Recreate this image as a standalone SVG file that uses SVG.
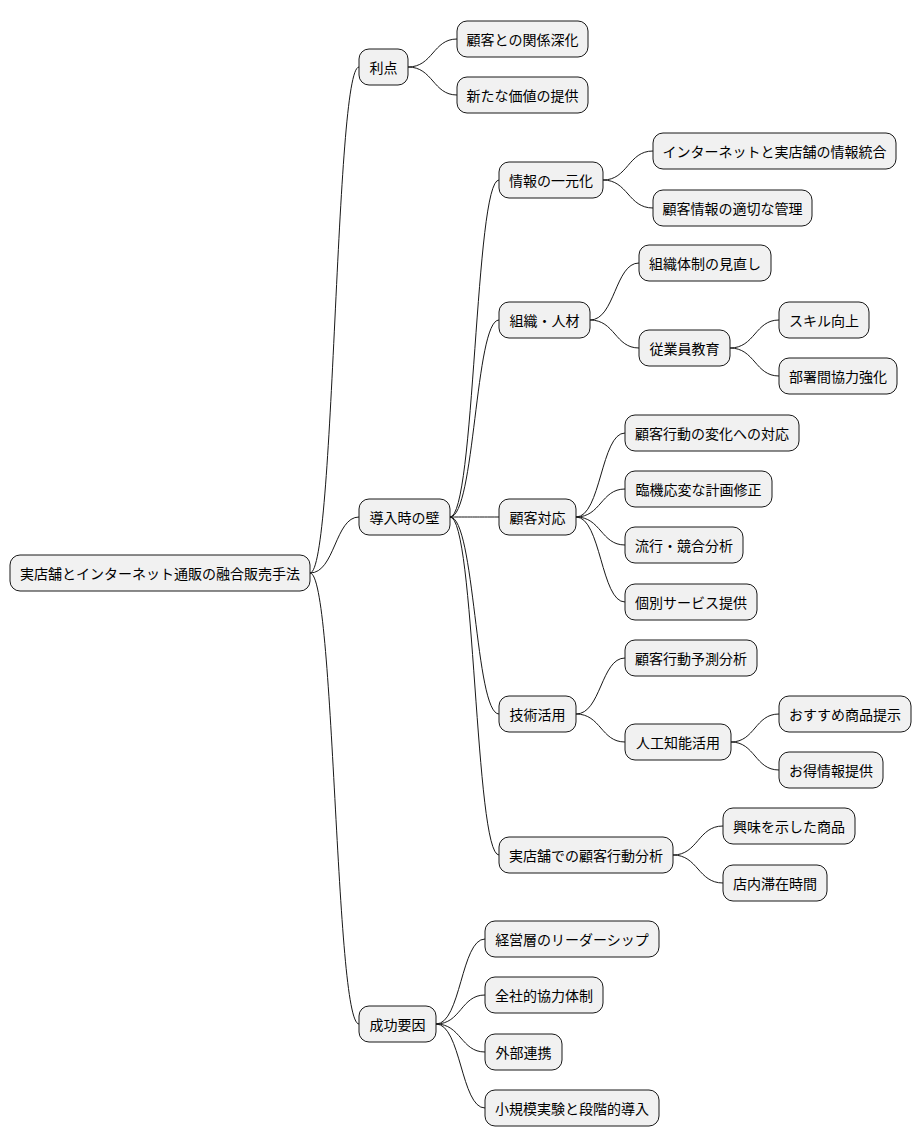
<svg xmlns="http://www.w3.org/2000/svg" width="922" height="1146" viewBox="0 0 922 1146">
<style>
rect{fill:#F1F1F1;stroke:#181818;stroke-width:1}
text{font-family:"Noto Sans CJK JP","Noto Sans",sans-serif;font-size:14px;fill:#000;text-anchor:middle;dominant-baseline:central}
path{fill:none;stroke:#181818;stroke-width:1}
</style>
<rect x="0" y="0" width="922" height="1146" style="fill:#fff;stroke:none"/>
<g id="connectors">
<path d="M310,573 C335,573 335,67 359,67"/>
<path d="M310,573 C335,573 335,517 359,517"/>
<path d="M310,573 C335,573 335,1024 359,1024"/>
<path d="M408,67 C433,67 433,39 457,39"/>
<path d="M408,67 C433,67 433,95 457,95"/>
<path d="M450,517 C475,517 475,180 499,180"/>
<path d="M450,517 C475,517 475,320 499,320"/>
<path d="M450,517 C475,517 475,517 499,517"/>
<path d="M450,517 C475,517 475,714 499,714"/>
<path d="M450,517 C475,517 475,855 499,855"/>
<path d="M603,180 C628,180 628,151 653,151"/>
<path d="M603,180 C628,180 628,208 653,208"/>
<path d="M590,320 C615,320 615,263 639,263"/>
<path d="M590,320 C615,320 615,348 639,348"/>
<path d="M730,348 C755,348 755,320 779,320"/>
<path d="M730,348 C755,348 755,376 779,376"/>
<path d="M576,517 C601,517 601,433 625,433"/>
<path d="M576,517 C601,517 601,489 625,489"/>
<path d="M576,517 C601,517 601,545 625,545"/>
<path d="M576,517 C601,517 601,602 625,602"/>
<path d="M576,714 C601,714 601,658 625,658"/>
<path d="M576,714 C601,714 601,742 625,742"/>
<path d="M731,742 C755,742 755,714 779,714"/>
<path d="M731,742 C755,742 755,770 779,770"/>
<path d="M673,855 C698,855 698,826 723,826"/>
<path d="M673,855 C698,855 698,883 723,883"/>
<path d="M436,1024 C461,1024 461,939 485,939"/>
<path d="M436,1024 C461,1024 461,995 485,995"/>
<path d="M436,1024 C461,1024 461,1052 485,1052"/>
<path d="M436,1024 C461,1024 461,1108 485,1108"/>
</g>
<g id="root"><rect x="10" y="555" width="300" height="36" rx="10"/><text x="160" y="573">実店舗とインターネット通販の融合販売手法</text></g>
<g id="n1"><rect x="359" y="49" width="49" height="36" rx="10"/><text x="383.5" y="67">利点</text></g>
<g id="n1a"><rect x="457" y="21" width="131" height="36" rx="10"/><text x="522.5" y="39">顧客との関係深化</text></g>
<g id="n1b"><rect x="457" y="77" width="131" height="36" rx="10"/><text x="522.5" y="95">新たな価値の提供</text></g>
<g id="n2"><rect x="359" y="499" width="91" height="36" rx="10"/><text x="404.5" y="517">導入時の壁</text></g>
<g id="n2a"><rect x="499" y="162" width="104" height="36" rx="10"/><text x="551" y="180">情報の一元化</text></g>
<g id="n2a1"><rect x="653" y="133" width="243" height="36" rx="10"/><text x="774.5" y="151">インターネットと実店舗の情報統合</text></g>
<g id="n2a2"><rect x="653" y="190" width="159" height="36" rx="10"/><text x="732.5" y="208">顧客情報の適切な管理</text></g>
<g id="n2b"><rect x="499" y="302" width="91" height="36" rx="10"/><text x="544.5" y="320">組織・人材</text></g>
<g id="n2b1"><rect x="639" y="245" width="132" height="36" rx="10"/><text x="705" y="263">組織体制の見直し</text></g>
<g id="n2b2"><rect x="639" y="330" width="91" height="36" rx="10"/><text x="684.5" y="348">従業員教育</text></g>
<g id="n2b2a"><rect x="779" y="302" width="90" height="36" rx="10"/><text x="824" y="320">スキル向上</text></g>
<g id="n2b2b"><rect x="779" y="358" width="118" height="36" rx="10"/><text x="838" y="376">部署間協力強化</text></g>
<g id="n2c"><rect x="499" y="499" width="77" height="36" rx="10"/><text x="537.5" y="517">顧客対応</text></g>
<g id="n2c1"><rect x="625" y="415" width="174" height="36" rx="10"/><text x="712" y="433">顧客行動の変化への対応</text></g>
<g id="n2c2"><rect x="625" y="471" width="147" height="36" rx="10"/><text x="698.5" y="489">臨機応変な計画修正</text></g>
<g id="n2c3"><rect x="625" y="527" width="118" height="36" rx="10"/><text x="684" y="545">流行・競合分析</text></g>
<g id="n2c4"><rect x="625" y="584" width="132" height="36" rx="10"/><text x="691" y="602">個別サービス提供</text></g>
<g id="n2d"><rect x="499" y="696" width="77" height="36" rx="10"/><text x="537.5" y="714">技術活用</text></g>
<g id="n2d1"><rect x="625" y="640" width="132" height="36" rx="10"/><text x="691" y="658">顧客行動予測分析</text></g>
<g id="n2d2"><rect x="625" y="724" width="106" height="36" rx="10"/><text x="678" y="742">人工知能活用</text></g>
<g id="n2d2a"><rect x="779" y="696" width="132" height="36" rx="10"/><text x="845" y="714">おすすめ商品提示</text></g>
<g id="n2d2b"><rect x="779" y="752" width="104" height="36" rx="10"/><text x="831" y="770">お得情報提供</text></g>
<g id="n2e"><rect x="499" y="837" width="174" height="36" rx="10"/><text x="586" y="855">実店舗での顧客行動分析</text></g>
<g id="n2e1"><rect x="723" y="808" width="132" height="36" rx="10"/><text x="789" y="826">興味を示した商品</text></g>
<g id="n2e2"><rect x="723" y="865" width="104" height="36" rx="10"/><text x="775" y="883">店内滞在時間</text></g>
<g id="n3"><rect x="359" y="1006" width="77" height="36" rx="10"/><text x="397.5" y="1024">成功要因</text></g>
<g id="n3a"><rect x="485" y="921" width="174" height="36" rx="10"/><text x="572" y="939">経営層のリーダーシップ</text></g>
<g id="n3b"><rect x="485" y="977" width="118" height="36" rx="10"/><text x="544" y="995">全社的協力体制</text></g>
<g id="n3c"><rect x="485" y="1034" width="77" height="36" rx="10"/><text x="523.5" y="1052">外部連携</text></g>
<g id="n3d"><rect x="485" y="1090" width="174" height="36" rx="10"/><text x="572" y="1108">小規模実験と段階的導入</text></g>
</svg>
